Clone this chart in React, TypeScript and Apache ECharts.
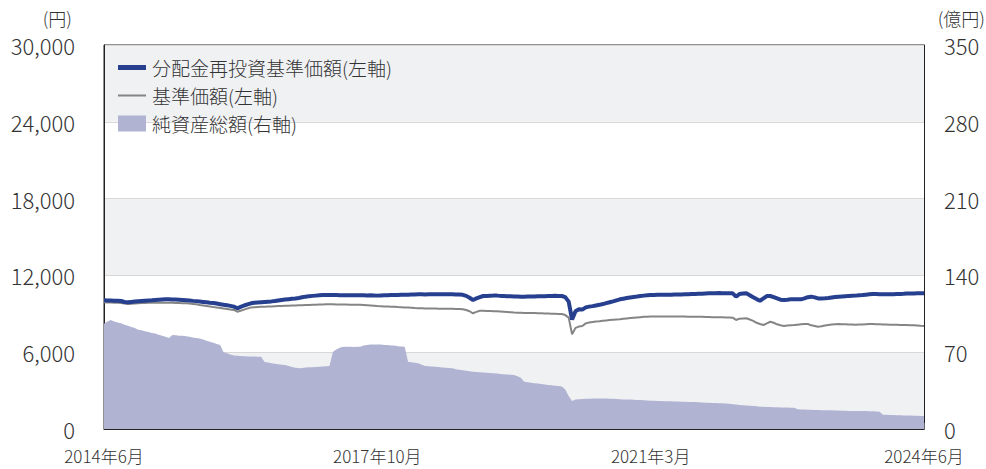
import React, { useEffect, useRef } from "react";
import * as echarts from "echarts";

// Half-month steps from 2014年6月 to 2024年6月 (index 0..240)
const xTickLabels = ["2014年6月", "2017年10月", "2021年3月", "2024年6月"];

// 分配金再投資基準価額 (円, left axis)
const navReinvest = [
  10050, 10040, 10030, 10020, 10010, 10000, 9920, 9900, 9930, 9960,
  9980, 10000, 10020, 10040, 10050, 10070, 10090, 10110, 10130, 10130,
  10120, 10110, 10100, 10080, 10060, 10040, 10010, 9990, 9960, 9930,
  9900, 9870, 9850, 9800, 9750, 9700, 9660, 9620, 9560, 9430,
  9540, 9650, 9740, 9820, 9870, 9890, 9910, 9930, 9950, 9970,
  10000, 10040, 10080, 10110, 10140, 10170, 10200, 10240, 10290, 10340,
  10380, 10400, 10420, 10440, 10460, 10470, 10470, 10460, 10460, 10450,
  10450, 10450, 10440, 10450, 10450, 10440, 10450, 10430, 10440, 10430,
  10420, 10430, 10440, 10450, 10460, 10460, 10470, 10480, 10480, 10490,
  10500, 10510, 10520, 10520, 10510, 10520, 10530, 10520, 10520, 10520,
  10520, 10530, 10520, 10510, 10500, 10480, 10400, 10250, 10080, 10200,
  10300, 10390, 10400, 10410, 10420, 10420, 10400, 10390, 10380, 10370,
  10360, 10350, 10340, 10340, 10350, 10360, 10360, 10370, 10370, 10380,
  10390, 10400, 10410, 10400, 10390, 10300, 9950, 8550, 9200, 9350,
  9330, 9500, 9560, 9600, 9650, 9700, 9760, 9830, 9900, 9970,
  10050, 10130, 10180, 10230, 10280, 10320, 10350, 10390, 10420, 10450,
  10470, 10470, 10480, 10480, 10480, 10480, 10490, 10500, 10510, 10510,
  10520, 10530, 10540, 10550, 10560, 10570, 10590, 10600, 10600, 10610,
  10620, 10610, 10610, 10600, 10600, 10340, 10550, 10580, 10600, 10450,
  10290, 10150, 10020, 10200, 10390, 10390, 10300, 10200, 10100, 10080,
  10100, 10130, 10130, 10130, 10130, 10200, 10300, 10340, 10280, 10200,
  10200, 10210, 10230, 10270, 10310, 10340, 10360, 10380, 10400, 10410,
  10420, 10440, 10460, 10490, 10520, 10550, 10540, 10530, 10520, 10520,
  10520, 10530, 10540, 10550, 10560, 10580, 10580, 10590, 10600, 10600,
  10600,
];

// 基準価額 (円, left axis)
const nav = [
  9900, 9890, 9880, 9870, 9860, 9850, 9800, 9770, 9790, 9810,
  9830, 9840, 9850, 9860, 9860, 9870, 9870, 9870, 9870, 9870,
  9860, 9850, 9840, 9830, 9820, 9800, 9770, 9740, 9690, 9650,
  9610, 9570, 9530, 9500, 9460, 9420, 9380, 9340, 9300, 9165,
  9240, 9330, 9420, 9500, 9520, 9540, 9550, 9560, 9570, 9580,
  9590, 9600, 9610, 9620, 9630, 9640, 9650, 9660, 9670, 9680,
  9690, 9700, 9710, 9720, 9730, 9740, 9740, 9740, 9730, 9730,
  9720, 9720, 9710, 9710, 9700, 9700, 9680, 9660, 9640, 9620,
  9600, 9590, 9580, 9570, 9560, 9550, 9530, 9520, 9500, 9490,
  9470, 9450, 9440, 9430, 9420, 9420, 9410, 9410, 9400, 9400,
  9400, 9390, 9390, 9380, 9370, 9350, 9300, 9200, 9040, 9150,
  9240, 9230, 9220, 9210, 9200, 9200, 9180, 9160, 9140, 9120,
  9100, 9090, 9080, 9070, 9070, 9060, 9060, 9050, 9040, 9030,
  9020, 9010, 9000, 8990, 8980, 8900, 8700, 7400, 7900, 8000,
  8050, 8250, 8320, 8360, 8400, 8420, 8450, 8480, 8510, 8540,
  8560, 8580, 8610, 8640, 8670, 8700, 8720, 8740, 8760, 8770,
  8780, 8780, 8780, 8780, 8780, 8780, 8780, 8780, 8780, 8780,
  8780, 8770, 8770, 8760, 8760, 8760, 8750, 8750, 8740, 8740,
  8730, 8730, 8720, 8710, 8700, 8520, 8620, 8640, 8650, 8550,
  8450, 8300, 8200, 8125, 8250, 8380, 8300, 8180, 8100, 8050,
  8080, 8100, 8120, 8150, 8180, 8200, 8200, 8100, 8050, 7990,
  8020, 8080, 8120, 8160, 8190, 8200, 8190, 8180, 8170, 8160,
  8150, 8160, 8170, 8190, 8200, 8200, 8190, 8180, 8170, 8160,
  8150, 8150, 8140, 8130, 8130, 8120, 8110, 8100, 8080, 8060,
  8050,
];

// 純資産総額 (億円, right axis)
const netAssets = [
  96, 98, 99.4, 98, 97, 96.5, 95, 94, 93, 92,
  90.5, 90, 89, 88.5, 87.5, 87, 86, 85, 84, 83,
  85.7, 85.5, 85, 85, 84.5, 84, 83.5, 83, 82.5, 81.5,
  80.5, 79.5, 78.5, 77.5, 76.5, 70, 69, 68, 67, 66.8,
  66.5, 66.3, 66, 66, 66, 65.9, 65.8, 61, 60.5, 60,
  59.5, 59, 58.5, 58.3, 57.5, 56.5, 55.8, 55.3, 55.5, 56,
  56.2, 56.3, 56.5, 56.8, 57, 57.2, 57.4, 70.5, 72.5, 74,
  75, 75, 75, 74.8, 75, 75, 76, 76.6, 77, 77,
  77, 77, 76.6, 76.5, 76.2, 76, 75.5, 75.2, 75, 61.3,
  60.8, 60.3, 59.9, 58.5, 57.5, 57.2, 57, 56.8, 56.5, 56,
  55.8, 55.5, 55.3, 54.5, 54, 53.5, 53, 52.6, 52.2, 52,
  51.7, 51.5, 51.3, 51, 50.8, 50.5, 50.2, 50, 49.7, 49.4,
  49.2, 48, 46.8, 43, 42.6, 42.2, 41.7, 41.4, 41, 40.6,
  40.2, 39.8, 39.5, 39.2, 38.8, 36, 30, 25.5, 26.8, 27.1,
  27.3, 27.5, 27.6, 27.7, 27.8, 27.9, 27.8, 27.7, 27.6, 27.5,
  27.3, 27.1, 27, 26.9, 26.8, 26.6, 26.5, 26.4, 26.2, 26,
  25.8, 25.7, 25.6, 25.5, 25.4, 25.3, 25.2, 25.1, 25, 24.9,
  24.8, 24.7, 24.6, 24.5, 24.4, 24.2, 24, 23.9, 23.8, 23.7,
  23.5, 23.4, 23.2, 23, 22.6, 22.3, 21.9, 21.7, 21.5, 21.3,
  21, 20.7, 20.3, 20.2, 20.1, 20, 19.9, 19.8, 19.7, 19.6,
  19.5, 19.4, 19.4, 17.9, 17.8, 17.7, 17.6, 17.5, 17.4, 17.3,
  17.2, 17.1, 17, 17, 16.9, 16.8, 16.7, 16.6, 16.5, 16.5,
  16.4, 16.4, 16.3, 16.3, 16.2, 16.1, 16, 15.8, 13, 12.9,
  12.8, 12.7, 12.6, 12.5, 12.4, 12.3, 12.2, 12.1, 12, 11.9,
  11.9,
];

const seriesNames = ["分配金再投資基準価額(左軸)", "基準価額(左軸)", "純資産総額(右軸)"];

const FONT = "'Noto Sans CJK JP', 'Noto Sans', sans-serif";
const TEXT = "#333";
const BLUE = "#263f8e";
const GRAY = "#858585";
const LAVENDER = "#b1b3d3";

export default function App() {
  const ref = useRef<HTMLDivElement>(null);
  useEffect(() => {
    if (!ref.current) return;
    const chart = echarts.init(ref.current, null, { renderer: "svg" });
    const last = navReinvest.length - 1;
    const step = last / 3;
    const toPairs = (arr: number[]) => arr.map((v, i) => [i, v]);
    chart.setOption({
      animation: false,
      textStyle: { fontFamily: FONT },
      grid: {
        left: 104, right: 62, top: 45, bottom: 40,
        show: true, borderColor: "#222", borderWidth: 1, backgroundColor: "transparent",
      },
      legend: {
        orient: "vertical", left: 113, top: 53, itemWidth: 28, itemHeight: 16, itemGap: 9,
        symbolKeepAspect: true,
        textStyle: { fontSize: 19, color: TEXT, fontFamily: FONT, fontWeight: 300, padding: [0, 0, 0, 1] },
        data: [
          { name: seriesNames[0], icon: "path://M0,0L28,0L28,5L0,5Z", itemStyle: { color: BLUE } },
          { name: seriesNames[1], icon: "path://M0,0L28,0L28,2L0,2Z", itemStyle: { color: GRAY } },
          { name: seriesNames[2], icon: "rect", itemStyle: { color: LAVENDER } },
        ],
      },
      xAxis: {
        type: "value", min: 0, max: last, interval: step,
        axisLine: { show: true, lineStyle: { color: "#222", width: 1 } },
        axisTick: { show: true, inside: true, length: 6, lineStyle: { color: "#666" } },
        splitLine: { show: false },
        axisLabel: {
          fontSize: 17, color: TEXT, margin: 18, fontWeight: 300,
          showMinLabel: true, showMaxLabel: true,
          formatter: (v: number) => xTickLabels[Math.round(v / step)] ?? "",
        },
      },
      yAxis: [
        {
          type: "value", min: 0, max: 30000, interval: 6000, position: "left",
          axisLine: { show: true, lineStyle: { color: "#222" } },
          axisTick: { show: false },
          splitLine: { show: true, lineStyle: { color: "#d8d8d8", width: 1 } },
          splitArea: { show: true, areaStyle: { color: ["#f0f1f3", "#ffffff"] } },
          axisLabel: {
            fontSize: 22, color: TEXT, margin: 29, fontWeight: 300,
            formatter: (v: number) => v.toLocaleString("en-US"),
          },
        },
        {
          type: "value", min: 0, max: 350, interval: 70, position: "right",
          axisLine: { show: true, lineStyle: { color: "#222" } },
          axisTick: { show: false },
          splitLine: { show: false },
          axisLabel: { fontSize: 22, color: TEXT, margin: 20, fontWeight: 300 },
        },
      ],
      graphic: [
        { type: "text", x: 72, y: 18, style: { text: "(円)", fontSize: 18, fill: TEXT, fontFamily: FONT, fontWeight: 300, align: "right", verticalAlign: "middle" } },
        { type: "text", x: 985, y: 18, style: { text: "(億円)", fontSize: 18, fill: TEXT, fontFamily: FONT, fontWeight: 300, align: "right", verticalAlign: "middle" } },
      ],
      series: [
        {
          name: seriesNames[2], type: "line", yAxisIndex: 1, data: toPairs(netAssets),
          symbol: "none", lineStyle: { width: 0, color: LAVENDER }, itemStyle: { color: LAVENDER },
          areaStyle: { color: LAVENDER, opacity: 1 }, z: 1,
        },
        {
          name: seriesNames[1], type: "line", yAxisIndex: 0, data: toPairs(nav),
          symbol: "none", lineStyle: { width: 2, color: GRAY }, itemStyle: { color: GRAY }, z: 3,
        },
        {
          name: seriesNames[0], type: "line", yAxisIndex: 0, data: toPairs(navReinvest),
          symbol: "none", lineStyle: { width: 4, color: BLUE }, itemStyle: { color: BLUE }, z: 4,
        },
      ],
    });
    return () => chart.dispose();
  }, []);
  return (
    <div
      ref={ref}
      style={{ position: "fixed", left: 0, top: 0, width: 986, height: 469, background: "#fff" }}
    />
  );
}
